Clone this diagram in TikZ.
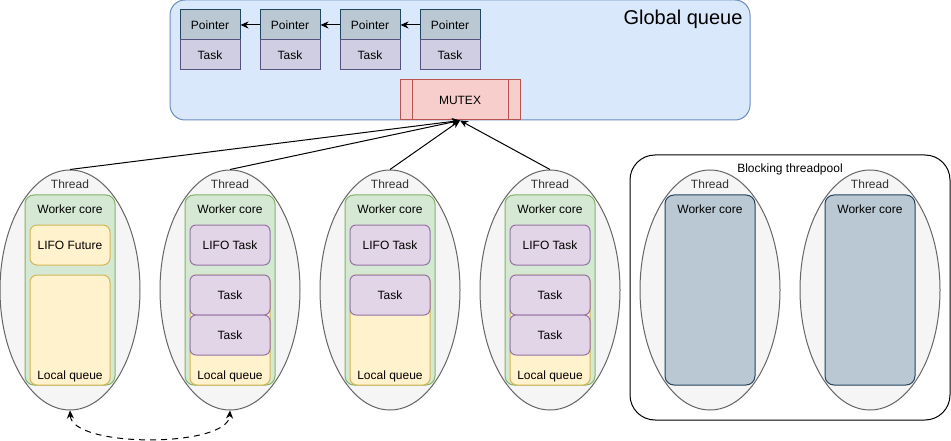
\documentclass[tikz,border=0pt]{standalone}
\usepackage{fontspec}
\setmainfont{Liberation Sans}
\usetikzlibrary{shapes.geometric,arrows.meta}
\definecolor{ptrf}{HTML}{BAC8D3}
\definecolor{ptrd}{HTML}{23445D}
\definecolor{tskf}{HTML}{D0CEE2}
\definecolor{tskd}{HTML}{56517E}
\definecolor{gqf}{HTML}{DAE8FC}
\definecolor{gqd}{HTML}{6C8EBF}
\definecolor{mxf}{HTML}{F8CECC}
\definecolor{mxd}{HTML}{B85450}
\definecolor{thf}{HTML}{F5F5F5}
\definecolor{thd}{HTML}{666666}
\definecolor{tht}{HTML}{333333}
\definecolor{crf}{HTML}{D5E8D4}
\definecolor{crd}{HTML}{82B366}
\definecolor{ylf}{HTML}{FFF2CC}
\definecolor{yld}{HTML}{D6B656}
\definecolor{puf}{HTML}{E1D5E7}
\definecolor{pud}{HTML}{9673A6}
\tikzset{
  every node/.style={font=\fontsize{12}{14}\selectfont, inner sep=0pt, line width=1pt},
  ptrbox/.style={rectangle, draw=ptrd, fill=ptrf, minimum width=60pt, minimum height=30pt},
  tskbox/.style={rectangle, draw=tskd, fill=tskf, minimum width=60pt, minimum height=30pt},
  thr/.style={ellipse, draw=thd, fill=thf, minimum width=140pt, minimum height=240pt},
  thrlbl/.style={text=tht},
  corebox/.style={rectangle, rounded corners=9pt, draw=crd, fill=crf, minimum width=90pt, minimum height=190pt},
  bcorebox/.style={rectangle, rounded corners=9pt, draw=ptrd, fill=ptrf, minimum width=90pt, minimum height=190pt},
  yelbox/.style={rectangle, rounded corners=7pt, draw=yld, fill=ylf, minimum width=80pt},
  purbox/.style={rectangle, rounded corners=6pt, draw=pud, fill=puf, minimum width=80pt, minimum height=40pt},
  conn/.style={line width=1pt, -{Stealth[length=8pt,width=7pt,inset=2.5pt]}},
}
\begin{document}
\begin{tikzpicture}[x=1pt,y=-1pt]
\useasboundingbox[fill=white] (0,0) rectangle (951,441);
% Global queue
\node[rectangle, rounded corners=15pt, draw=gqd, fill=gqf, minimum width=580pt, minimum height=120pt] (gq) at (460,60) {};
\node[anchor=east, font=\fontsize{20}{24}\selectfont] (gqlbl) at (743,19) {Global queue};
\node[ptrbox] (p1) at (210,25) {Pointer};
\node[tskbox] (k1) at (210,55) {Task};
\node[ptrbox] (p2) at (290,25) {Pointer};
\node[tskbox] (k2) at (290,55) {Task};
\node[ptrbox] (p3) at (370,25) {Pointer};
\node[tskbox] (k3) at (370,55) {Task};
\node[ptrbox] (p4) at (450,25) {Pointer};
\node[tskbox] (k4) at (450,55) {Task};
\draw[conn] (p2.west) -- (p1.east);
\draw[conn] (p3.west) -- (p2.east);
\draw[conn] (p4.west) -- (p3.east);
\node[rectangle, draw=mxd, fill=mxf, minimum width=120pt, minimum height=40pt] (mutex) at (460,100) {MUTEX};
\draw[mxd, line width=1pt] (412,80) -- (412,120) (508,80) -- (508,120);
% Blocking threadpool
\node[rectangle, rounded corners=25pt, draw=black, fill=white, minimum width=320pt, minimum height=265pt] (bp) at (790,287.5) {};
\node (bplbl) at (790,169) {Blocking threadpool};
% Threads
\foreach \i/\cx in {1/70,2/230,3/390,4/550,5/710,6/870}{
  \node[thr] (t\i) at (\cx,290) {};
  \node[thrlbl] (t\i lbl) at (\cx,184) {Thread};
}
\foreach \i/\cx in {1/70,2/230,3/390,4/550}{
  \node[corebox] (c\i) at (\cx,290) {};
  \node (c\i lbl) at (\cx,209) {Worker core};
}
\foreach \i/\cx in {5/710,6/870}{
  \node[bcorebox] (c\i) at (\cx,290) {};
  \node (c\i lbl) at (\cx,209) {Worker core};
}
% Thread 1
\node[yelbox, minimum height=40pt] (lf1) at (70,245) {LIFO Future};
\node[yelbox, minimum height=110pt] (lq1) at (70,330) {};
\node (lq1lbl) at (70,376) {Local queue};
% Thread 2
\node[purbox] (lt2) at (230,245) {LIFO Task};
\node[yelbox, minimum height=110pt] (lq2) at (230,330) {};
\node (lq2lbl) at (230,376) {Local queue};
\node[purbox] (ta2) at (230,295) {Task};
\node[purbox] (tb2) at (230,335) {Task};
% Thread 3
\node[purbox] (lt3) at (390,245) {LIFO Task};
\node[yelbox, minimum height=110pt] (lq3) at (390,330) {};
\node (lq3lbl) at (390,376) {Local queue};
\node[purbox] (ta3) at (390,295) {Task};
% Thread 4
\node[purbox] (lt4) at (550,245) {LIFO Task};
\node[yelbox, minimum height=110pt] (lq4) at (550,330) {};
\node (lq4lbl) at (550,376) {Local queue};
\node[purbox] (ta4) at (550,295) {Task};
\node[purbox] (tb4) at (550,335) {Task};
% Connectors to mutex
\draw[conn] (t1.north) -- (mutex.south);
\draw[conn] (t2.north) -- (mutex.south);
\draw[conn] (t3.north) -- (mutex.south);
\draw[conn] (t4.north) -- (mutex.south);
% Dashed work-stealing
\draw[conn, {Stealth[length=8pt,width=7pt,inset=2.5pt]}-{Stealth[length=8pt,width=7pt,inset=2.5pt]}, dash pattern=on 6pt off 5pt]
  (t1.south) .. controls (72,448) and (228,448) .. (t2.south);
\end{tikzpicture}
\end{document}
